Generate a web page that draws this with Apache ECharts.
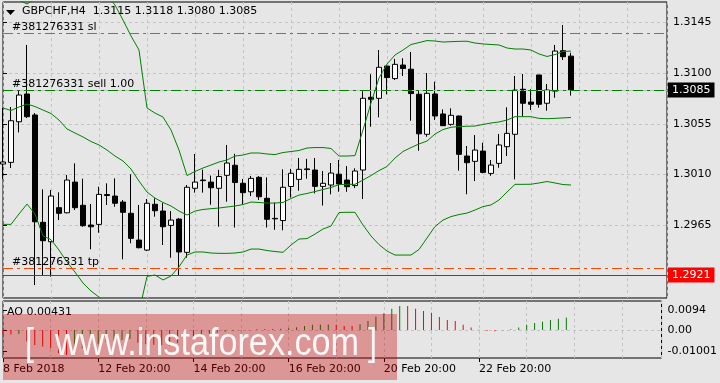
<!DOCTYPE html>
<html><head><meta charset="utf-8">
<script src="https://cdn.jsdelivr.net/npm/echarts@6/dist/echarts.min.js"></script>
<style>html,body{margin:0;padding:0;background:#E6E6E6;}#c{width:720px;height:383px;}</style>
</head><body><div id="c"></div>
<script>
const symbolName = 'GBPCHF,H4';
const aoTitle = 'AO 0.00431';
const dateLabels = ['8 Feb 2018','12 Feb 20:00','14 Feb 20:00','16 Feb 20:00','20 Feb 20:00','22 Feb 20:00'];
const dateTicks = [0,12,24,36,48,60];
const opens  = [1.30193,1.30208,1.30568,1.30814,1.30628,1.29676,1.29504,1.29806,1.29761,1.30033,1.29827,1.29652,1.29658,1.29922,1.29909,1.29856,1.29756,1.29519,1.29430,1.29836,1.29776,1.29649,1.29705,1.29410,1.29978,1.30051,1.30033,1.29978,1.30093,1.30182,1.30022,1.29947,1.30075,1.29889,1.29711,1.29692,1.29994,1.30057,1.30150,1.30140,1.29995,1.30007,1.30103,1.30051,1.30002,1.30140,1.30785,1.30776,1.31062,1.30951,1.31071,1.31034,1.30812,1.30457,1.30814,1.30637,1.30545,1.30619,1.30264,1.30217,1.30308,1.30110,1.30199,1.30347,1.30457,1.30856,1.30743,1.30983,1.30732,1.30840,1.31198,1.3115];
const closes = [1.30211,1.30577,1.30805,1.30613,1.29681,1.29513,1.29909,1.29756,1.30051,1.29806,1.29646,1.29637,1.29924,1.29914,1.29845,1.29765,1.29534,1.29451,1.29845,1.29779,1.29637,1.29696,1.29413,1.29987,1.30033,1.30046,1.29983,1.30082,1.30202,1.30029,1.29939,1.30066,1.29903,1.29703,1.29707,1.29987,1.30111,1.30146,1.30144,1.29995,1.30022,1.30113,1.30016,1.29992,1.30131,1.30776,1.30767,1.31051,1.30960,1.31077,1.31040,1.30818,1.30461,1.30820,1.30619,1.30533,1.30625,1.30279,1.30205,1.30317,1.30119,1.30184,1.30362,1.30465,1.30849,1.30732,1.30723,1.30723,1.30849,1.31195,1.31145,1.3085];
const lows   = [1.30060,1.30158,1.30474,1.30601,1.29120,1.29209,1.29194,1.29696,1.29756,1.29785,1.29637,1.29437,1.29584,1.29830,1.29814,1.29348,1.29490,1.29445,1.29421,1.29726,1.29475,1.29362,1.29209,1.29362,1.29939,1.29939,1.29832,1.29637,1.29859,1.29630,1.29836,1.29909,1.29874,1.29630,1.29610,1.29605,1.29896,1.29956,1.30062,1.29933,1.29825,1.29924,1.29947,1.29947,1.29980,1.29883,1.30524,1.30607,1.30811,1.30938,1.30974,1.30577,1.30311,1.30435,1.30583,1.30532,1.30533,1.30134,1.29925,1.30042,1.30110,1.30089,1.30160,1.30264,1.30057,1.30613,1.30672,1.30693,1.30666,1.30781,1.31116,1.3080];
const highs  = [1.30690,1.30699,1.30849,1.31249,1.30645,1.29969,1.29963,1.29942,1.30096,1.30199,1.30063,1.29838,1.29992,1.30022,1.30066,1.29874,1.30102,1.29830,1.29883,1.29889,1.29847,1.29776,1.29714,1.30007,1.30282,1.30144,1.30091,1.30142,1.30362,1.30284,1.30060,1.30087,1.30087,1.30075,1.29852,1.30146,1.30150,1.30246,1.30239,1.30246,1.30131,1.30202,1.30229,1.30175,1.30155,1.30840,1.30989,1.31204,1.31067,1.31126,1.31131,1.31187,1.30849,1.31000,1.30923,1.30678,1.30687,1.30623,1.30353,1.30450,1.30382,1.30229,1.30459,1.30696,1.30974,1.30991,1.30856,1.30983,1.30903,1.31249,1.31426,1.3118];
const bbUpper  = [1.31722,1.31678,1.31648,1.31612,1.31656,1.31789,1.31759,1.31736,1.31684,1.31701,1.31728,1.31719,1.31711,1.31692,1.31603,1.31470,1.31329,1.31204,1.30690,1.30645,1.30610,1.30495,1.30317,1.30091,1.30127,1.30158,1.30184,1.30211,1.30229,1.30264,1.30273,1.30291,1.30291,1.30282,1.30277,1.30295,1.30304,1.30313,1.30335,1.30339,1.30339,1.30331,1.30264,1.30264,1.30268,1.30495,1.30734,1.30956,1.31080,1.31160,1.31204,1.31253,1.31270,1.31288,1.31284,1.31275,1.31278,1.31281,1.31282,1.31266,1.31258,1.31253,1.31249,1.31222,1.31213,1.31213,1.31204,1.31169,1.31147,1.31164,1.31191,1.31195];
const bbMiddle = [1.30690,1.30668,1.30699,1.30725,1.30703,1.30672,1.30641,1.30583,1.30504,1.30468,1.30433,1.30393,1.30362,1.30317,1.30264,1.30220,1.30149,1.30042,1.29945,1.29891,1.29852,1.29821,1.29776,1.29741,1.29776,1.29790,1.29797,1.29803,1.29812,1.29821,1.29834,1.29856,1.29852,1.29847,1.29847,1.29853,1.29887,1.29918,1.29932,1.29949,1.29967,1.29985,1.30011,1.30013,1.30013,1.30051,1.30091,1.30135,1.30171,1.30246,1.30304,1.30339,1.30371,1.30397,1.30459,1.30499,1.30519,1.30526,1.30528,1.30530,1.30544,1.30557,1.30566,1.30583,1.30613,1.30613,1.30613,1.30598,1.30595,1.30598,1.30602,1.30606];
const bbLower  = [1.29658,1.29658,1.29750,1.29838,1.29750,1.29555,1.29523,1.29430,1.29324,1.29235,1.29138,1.29067,1.29013,1.28942,1.28925,1.28970,1.28969,1.28880,1.29196,1.29209,1.29165,1.29200,1.29282,1.29386,1.29413,1.29413,1.29404,1.29401,1.29401,1.29404,1.29413,1.29439,1.29439,1.29426,1.29417,1.29410,1.29475,1.29528,1.29532,1.29572,1.29617,1.29643,1.29763,1.29765,1.29765,1.29652,1.29555,1.29479,1.29421,1.29386,1.29386,1.29386,1.29435,1.29537,1.29639,1.29696,1.29727,1.29745,1.29758,1.29785,1.29816,1.29830,1.29874,1.29945,1.30013,1.30013,1.30014,1.30025,1.30038,1.30025,1.30011,1.30007];
const aoValues = [-0.0020,-0.0021,-0.0019,-0.0055,-0.0071,-0.0078,-0.0086,-0.0110,-0.0118,-0.0094,-0.0086,-0.0071,-0.0065,-0.0058,-0.0052,-0.0047,-0.0043,-0.0060,-0.0066,-0.0070,-0.0072,-0.0074,-0.0062,-0.0047,-0.0031,-0.0024,-0.0018,-0.0012,-0.0008,-0.0005,-0.0003,-0.0001,0.0003,0.0004,0.0004,0.0005,0.0008,0.0013,0.0019,0.0024,0.0025,0.0026,0.0024,0.0019,0.0018,0.0027,0.0042,0.0063,0.0078,0.0099,0.0113,0.0112,0.0099,0.0089,0.0081,0.0061,0.0047,0.0042,0.0024,0.0011,0.0001,-0.0005,-0.0006,-0.0002,0.0003,0.0011,0.0024,0.0033,0.0039,0.0047,0.0052,0.0058];
const priceTicks = [1.2965,1.3010,1.3055,1.3100,1.3145];
const aoTicks = [-0.01001,0,0.0094];
const aoTickLabels = ['-0.01001','0.00','0.0094'];
const aoZero = [0];
const orderId = '#381276331';
const slPrice = 1.3135, entryPrice = 1.3085, tpPrice = 1.2927, alertPrice = 1.2921;

const FONT = 'DejaVu Sans';
const N = opens.length;
const candleData = opens.map((o,i)=>[i,o,closes[i],lows[i],highs[i]]);
const toXY = arr => arr.map((v,i)=>[i,v]);
const aoData = aoValues.map((v,i)=>({value:[i,v], itemStyle:{color:(i>0 && v>=aoValues[i-1])?'#008000':'#FF0000'}}));
const dashDot = [10,4,3,4];
const gridLine = {color:'#C4C4C4', type:[3,3], width:1};
const txt = {color:'#000', fontFamily:FONT, fontSize:11};

const chart = echarts.init(document.getElementById('c'), null, {renderer:'canvas', width:720, height:383});
chart.setOption({
  animation:false,
  backgroundColor:'#E6E6E6',
  grid:[
    {left:3, top:2, width:664, height:296, show:true, borderColor:'#000', borderWidth:1, backgroundColor:'transparent'},
    {left:3, top:301, width:664, height:57, show:true, borderColor:'#000', borderWidth:1, backgroundColor:'transparent'}
  ],
  xAxis:[
    {type:'value', gridIndex:0, min:0, max:83, interval:6, axisLine:{show:false}, axisTick:{show:false}, axisLabel:{show:false},
     splitLine:{show:true, lineStyle:gridLine}},
    {type:'value', gridIndex:1, position:'bottom', min:0, max:83, axisLine:{show:false, onZero:false},
     axisTick:{show:true, length:4, customValues:dateTicks, lineStyle:{color:'#000'}},
     axisLabel:Object.assign({show:true, margin:6, align:'left', customValues:dateTicks, formatter:v=>{const j=dateTicks.indexOf(v); return j>=0?dateLabels[j]:'';}}, txt),
     splitLine:{show:false}},
    {type:'value', gridIndex:1, position:'top', min:0, max:83, interval:6, axisLine:{show:false, onZero:false}, axisTick:{show:false}, axisLabel:{show:false},
     splitLine:{show:true, lineStyle:gridLine}}
  ],
  yAxis:[
    {type:'value', gridIndex:0, position:'right', min:1.29005, max:1.3163,
     axisLine:{show:false},
     axisTick:{show:true, length:4, customValues:priceTicks, lineStyle:{color:'#000'}},
     axisLabel:Object.assign({show:true, margin:6, customValues:priceTicks, formatter:v=>v.toFixed(4)}, txt),
     splitLine:{show:true, lineStyle:gridLine}},
    {type:'value', gridIndex:1, position:'right', min:-0.0132, max:0.0136,
     axisLine:{show:false},
     axisTick:{show:true, length:4, customValues:aoTicks, lineStyle:{color:'#000'}},
     axisLabel:Object.assign({show:true, margin:6, customValues:aoTicks, formatter:v=>{const j=aoTicks.indexOf(v);return j>=0?aoTickLabels[j]:'';}}, txt),
     splitLine:{show:false}},
    {type:'value', gridIndex:1, position:'left', min:-0.0132, max:0.0136,
     axisLine:{show:false},
     axisTick:{show:false, customValues:aoZero},
     axisLabel:{show:false, customValues:aoZero},
     splitLine:{show:true, lineStyle:gridLine}}
  ],
  series:[
    {type:'candlestick', xAxisIndex:0, yAxisIndex:0, data:candleData, encode:{x:0, y:[1,2,3,4]}, barWidth:5, z:2,
     itemStyle:{color:'#FFFFFF', color0:'#000000', borderColor:'#000000', borderColor0:'#000000', borderWidth:1},
     markLine:{silent:true, symbol:['none','none'], animation:false, precision:5,
       data:[
         {yAxis:entryPrice, lineStyle:{color:'#BDBDBD', type:'solid', width:1},
          label:{show:true, position:'end', distance:1, formatter:entryPrice.toFixed(4), backgroundColor:'#000', color:'#fff', fontFamily:FONT, fontSize:11, padding:[2,4,2,4]}},
         {yAxis:slPrice, lineStyle:{color:'#FF4500', type:dashDot, width:1},
          label:{show:true, position:'insideStartTop', distance:[9,1], formatter:orderId+' sl', color:'#000', fontFamily:FONT, fontSize:11}},
         {yAxis:entryPrice, lineStyle:{color:'#008000', type:dashDot, width:1},
          label:{show:true, position:'insideStartTop', distance:[9,0], formatter:orderId+' sell 1.00', color:'#000', fontFamily:FONT, fontSize:11}},
         {yAxis:tpPrice, lineStyle:{color:'#FF4500', type:dashDot, width:1},
          label:{show:true, position:'insideStartTop', distance:[9,0], formatter:orderId+' tp', color:'#000', fontFamily:FONT, fontSize:11}},
         {yAxis:alertPrice, lineStyle:{color:'#FF0000', type:'solid', width:1},
          label:{show:true, position:'end', distance:1, formatter:alertPrice.toFixed(4), backgroundColor:'#FF0000', color:'#fff', fontFamily:FONT, fontSize:11, padding:[2,4,2,4]}}
       ]}},
    {type:'line', xAxisIndex:0, yAxisIndex:0, data:toXY(bbUpper), showSymbol:false, z:3, lineStyle:{color:'#008000', width:1}},
    {type:'line', xAxisIndex:0, yAxisIndex:0, data:toXY(bbMiddle), showSymbol:false, z:3, lineStyle:{color:'#008000', width:1}},
    {type:'line', xAxisIndex:0, yAxisIndex:0, data:toXY(bbLower), showSymbol:false, z:3, lineStyle:{color:'#008000', width:1}},
    {type:'bar', xAxisIndex:1, yAxisIndex:1, data:aoData, barWidth:1, z:2}
  ],
  graphic:[
    {type:'polygon', shape:{points:[[6,10],[15,10],[10.5,15]]}, style:{fill:'#000'}, z:50},
    {type:'text', left:22, top:6, style:{text:symbolName+'  '+[opens[N-1],highs[N-1],lows[N-1],closes[N-1]].map(v=>v.toFixed(4)).join(' '), fill:'#000', font:'11px "DejaVu Sans"'}, z:50},
    {type:'text', left:7, top:307, style:{text:aoTitle, fill:'#000', font:'11px "DejaVu Sans"'}, z:50},
    {type:'rect', shape:{x:3, y:314, width:394, height:66}, style:{fill:'rgba(200,0,0,0.35)'}, z:100},
    {type:'text', x:25, y:326, scaleX:0.85, style:{text:'[', fill:'rgba(255,255,255,0.92)', font:'38px "Liberation Sans"'}, z:101},
    {type:'text', x:55, y:326, scaleX:0.9, style:{text:'www.instaforex.com', fill:'rgba(255,255,255,0.92)', font:'38px "Liberation Sans"'}, z:101},
    {type:'text', x:368, y:326, scaleX:0.85, style:{text:']', fill:'rgba(255,255,255,0.92)', font:'38px "Liberation Sans"'}, z:101}
  ]
});
</script>
</body></html>
